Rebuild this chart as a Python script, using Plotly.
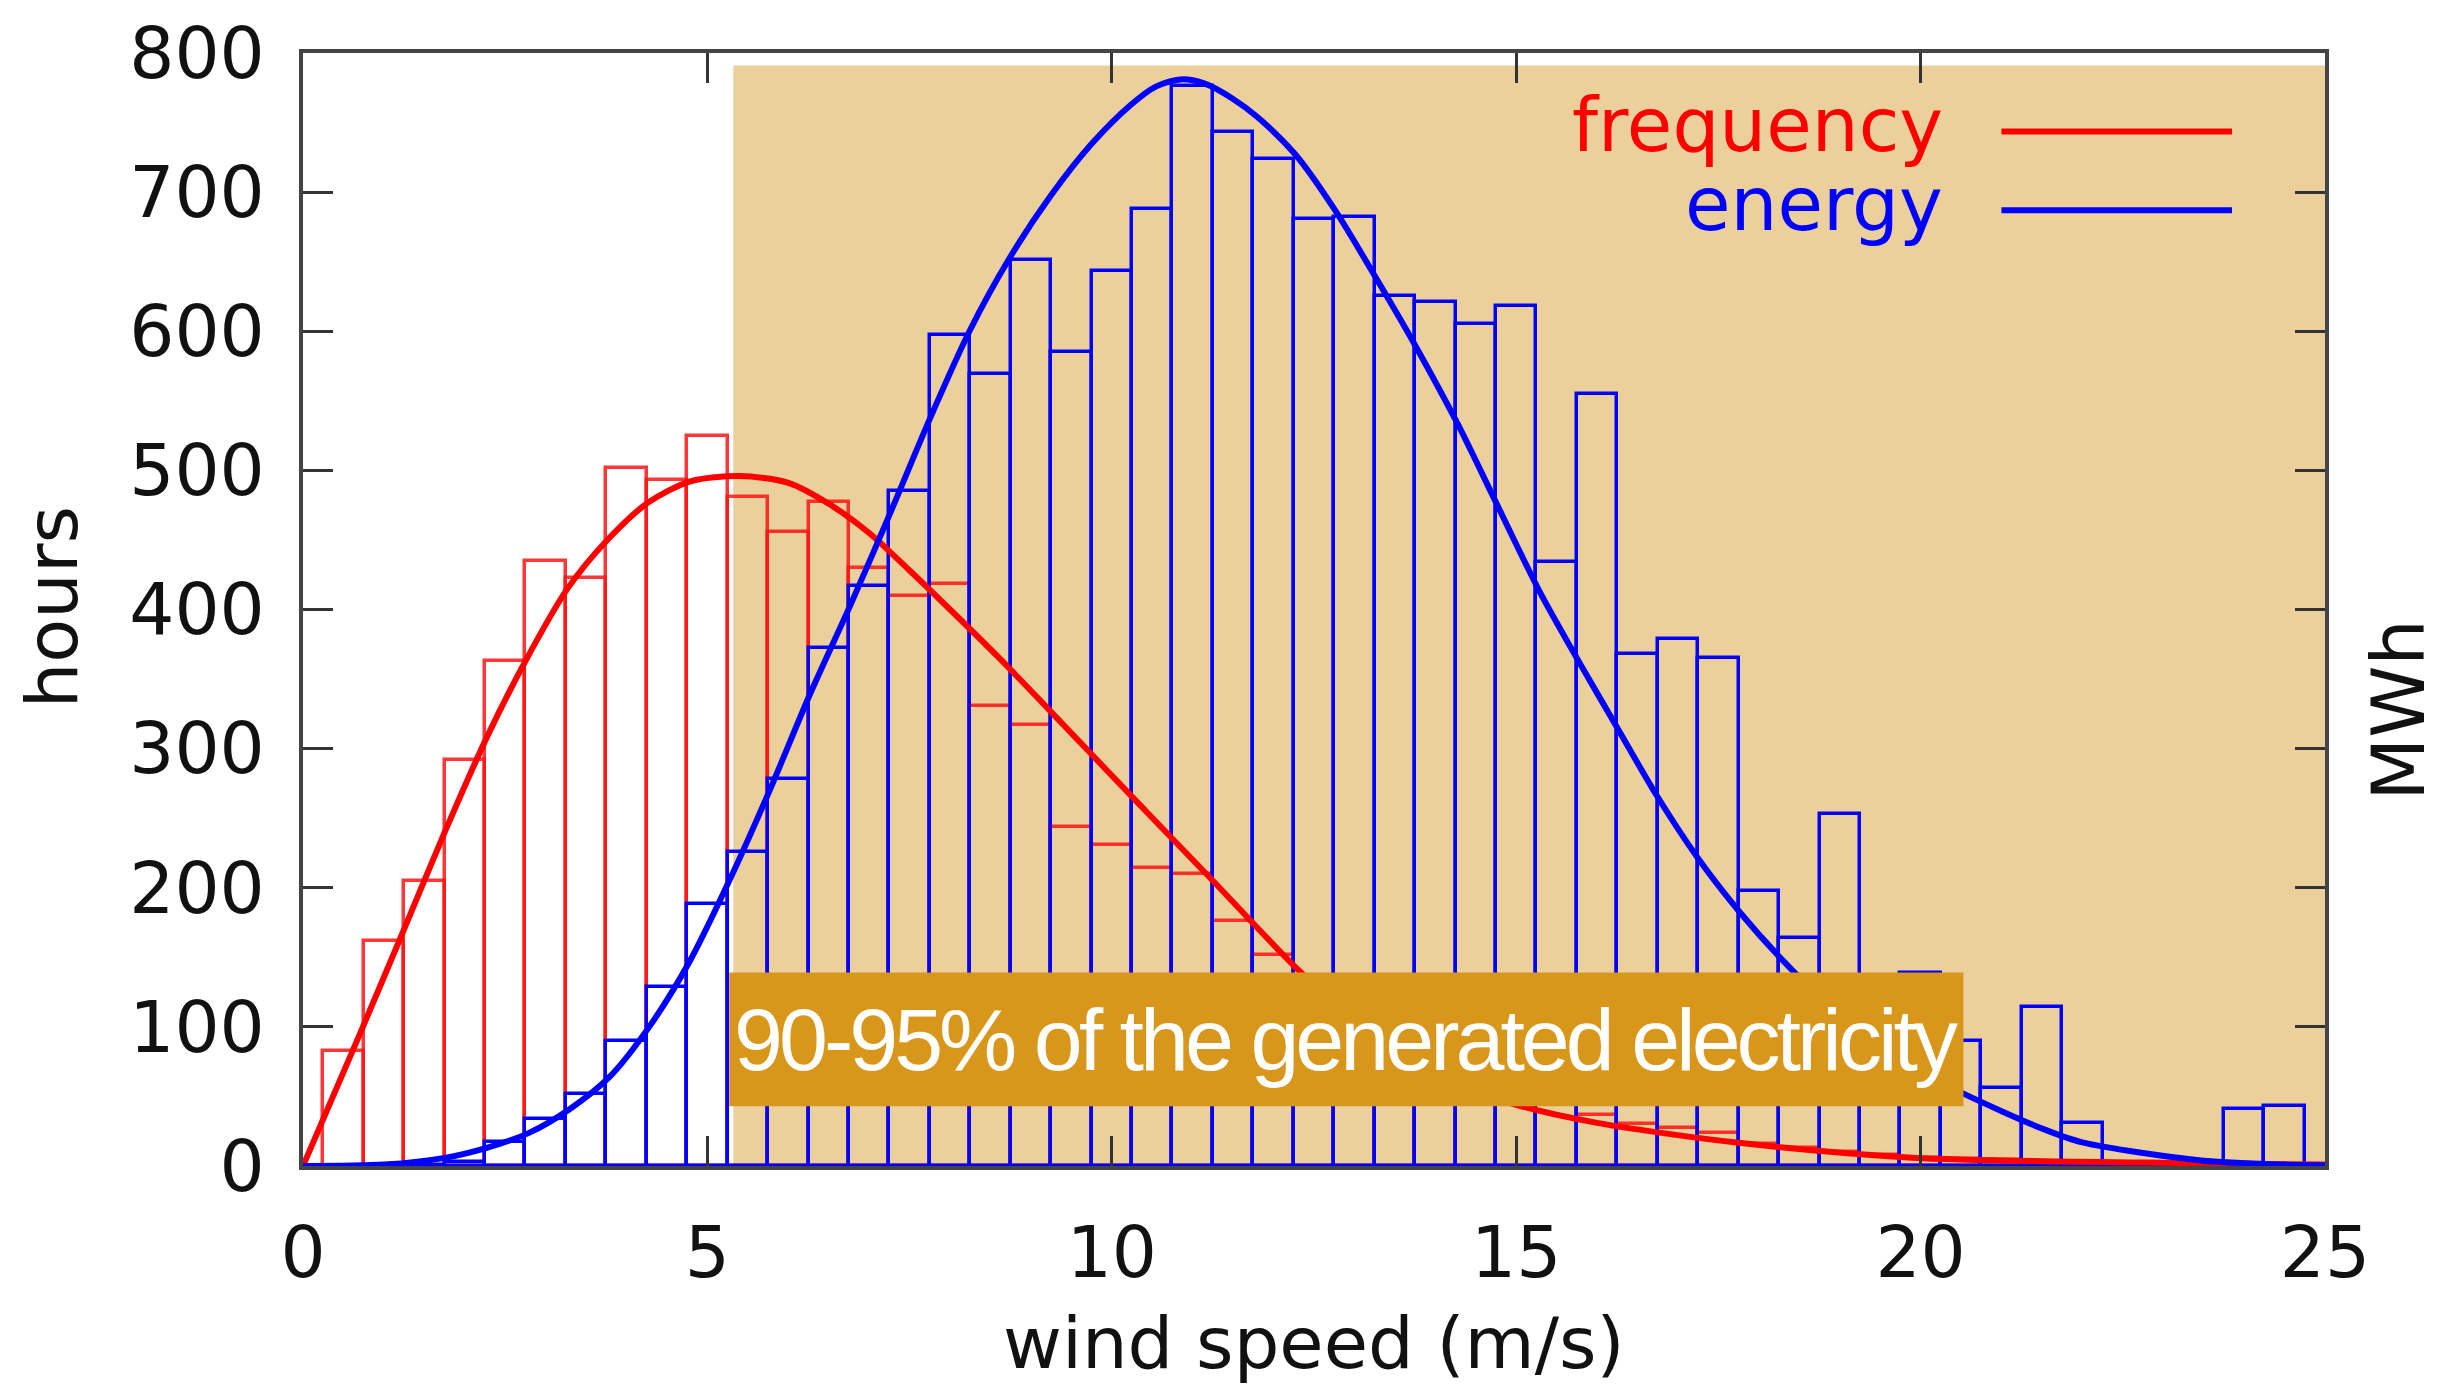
import plotly.graph_objects as go

# ---- data ----
bin_centers = [0.5 * k for k in range(1, 50)]  # 0.5 ... 24.5

frequency_hours = [83, 162, 205, 292, 363, 435, 423, 502, 493, 525,
                   481, 456, 477, 430, 410, 418, 331, 317, 244, 231,
                   214, 210, 176, 152, 133, 116, 98, 82, 66, 56,
                   46, 37, 30, 27, 24, 16, 13, 10, 8, 6,
                   5, 4, 3, 3, 2, 2, 1, 1, 1]

energy_mwh = [0, 0, 1, 3, 17, 34, 52, 90, 129, 188,
              226, 278, 372, 417, 485, 597, 569, 651, 585, 643,
              688, 776, 743, 724, 681, 682, 625, 621, 605, 618,
              434, 555, 368, 379, 365, 198, 164, 253, 100, 139,
              90, 56, 114, 31, 0, 0, 0, 41, 43]

freq_curve_x = [0, 0.66, 1.27, 1.76, 2.28, 2.76, 3.27, 3.78, 4.27, 4.78, 5.4,
                6.0, 6.5, 7.0, 7.5, 8.0, 8.61, 9.24, 10.24, 11.25, 12.27,
                13, 13.5, 14, 14.5, 15, 16, 17.7, 19.9, 23.4, 25]
freq_curve_y = [0, 89, 173, 241, 309, 364, 415, 451, 477, 492, 496,
                491, 476, 455, 428, 400, 365, 327, 266, 205, 143,
                105, 84, 67, 54, 44, 31, 17, 6, 2, 1]

energy_curve_x = [0, 1.0, 1.77, 2.27, 2.8, 3.3, 3.79, 4.28, 4.78, 5.27, 5.77,
                  6.26, 6.79, 7.28, 7.75, 8.24, 8.74, 9.24, 9.74, 10.24, 10.55,
                  10.85, 11.15, 11.5, 11.8, 12.27, 12.76, 13.28, 13.75, 14.28, 14.75, 15.28,
                  15.78, 16.26, 16.73, 17.25, 17.77, 18.26, 19.0, 19.5, 20.0,
                  20.53, 21.5, 22.0, 23.47, 24.5, 25]
energy_curve_y = [0, 1, 6, 13, 24, 41, 64, 100, 147, 205, 270,
                  338, 406, 472, 537, 600, 653, 697, 734, 763, 776,
                  781, 778, 767, 754, 727, 687, 637, 590, 533, 477, 414,
                  362, 314, 267, 221, 182, 150, 108, 86, 68,
                  52, 27, 17, 4, 1, 0.5]

x_ticks = [0, 5, 10, 15, 20, 25]
y_ticks = [0, 100, 200, 300, 400, 500, 600, 700, 800]

shade_x = [5.32, 25]
shade_top = 791
note_text = "90-95% of the generated electricity"
note_x = [5.27, 20.53]
note_y = [43, 139]

RED = "#ff0000"
BLUE = "#0000ff"
FONT = "DejaVu Sans"

fig = go.Figure()

fig.add_trace(go.Bar(x=bin_centers, y=frequency_hours, width=0.5,
                     marker=dict(color="rgba(0,0,0,0)", line=dict(color="rgba(255,20,20,0.85)", width=3.5)),
                     showlegend=False))
fig.add_trace(go.Bar(x=bin_centers, y=energy_mwh, width=0.5,
                     marker=dict(color="rgba(0,0,0,0)", line=dict(color=BLUE, width=3.5)),
                     showlegend=False))
fig.add_trace(go.Scatter(x=freq_curve_x, y=freq_curve_y, mode="lines",
                         line=dict(color=RED, width=6, shape="spline", smoothing=0.8),
                         showlegend=False))
fig.add_trace(go.Scatter(x=energy_curve_x, y=energy_curve_y, mode="lines",
                         line=dict(color=BLUE, width=6, shape="spline", smoothing=0.8),
                         showlegend=False))

shapes = [
    dict(type="rect", xref="x", yref="y", x0=shade_x[0], x1=shade_x[1], y0=0, y1=shade_top,
         fillcolor="#ebd09c", line=dict(width=0), layer="below"),
    dict(type="rect", xref="x", yref="y", x0=note_x[0], x1=note_x[1], y0=note_y[0], y1=note_y[1],
         fillcolor="#d8961a", line=dict(width=0), layer="above"),
    dict(type="line", xref="paper", yref="paper", x0=0.840, x1=0.954, y0=0.9295, y1=0.9295,
         line=dict(color=RED, width=6)),
    dict(type="line", xref="paper", yref="paper", x0=0.840, x1=0.954, y0=0.8587, y1=0.8587,
         line=dict(color=BLUE, width=6)),
]

annotations = [
    dict(x=(note_x[0] + note_x[1]) / 2, y=(note_y[0] + note_y[1]) / 2, xref="x", yref="y",
         text='<span style="letter-spacing:-4px">' + note_text + '</span>', showarrow=False,
         font=dict(family="Liberation Sans Narrow, Liberation Sans, Arial", size=88, color="white")),
    dict(x=0.812, y=0.935, xref="paper", yref="paper", xanchor="right", yanchor="middle",
         text="frequency", showarrow=False, font=dict(family=FONT, size=74, color=RED)),
    dict(x=0.812, y=0.864, xref="paper", yref="paper", xanchor="right", yanchor="middle",
         text="energy", showarrow=False, font=dict(family=FONT, size=74, color=BLUE)),
    dict(x=0.5, y=-0.159, xref="paper", yref="paper", xanchor="center", yanchor="middle",
         text="wind speed (m/s)", showarrow=False, font=dict(family=FONT, size=72, color="#111")),
    dict(x=-0.1241, y=0.502, xref="paper", yref="paper", xanchor="center", yanchor="middle",
         text="hours", textangle=-90, showarrow=False, font=dict(family=FONT, size=72, color="#111")),
    dict(x=1.0366, y=0.409, xref="paper", yref="paper", xanchor="center", yanchor="middle",
         text="MWh", textangle=-90, showarrow=False, font=dict(family=FONT, size=73, color="#111")),
]

fig.update_layout(
    width=2459, height=1394,
    margin=dict(l=303, r=134, t=48, b=228),
    paper_bgcolor="white", plot_bgcolor="white",
    barmode="overlay", bargap=0,
    shapes=shapes, annotations=annotations,
    font=dict(family=FONT, color="#111"),
    xaxis=dict(range=[0, 25], tickvals=x_ticks, ticktext=[str(v) for v in x_ticks],
               ticks="inside", ticklen=30, tickwidth=3, tickcolor="#333",
               mirror="ticks", showline=True, linecolor="#444", linewidth=4,
               showgrid=False, zeroline=False, tickfont=dict(size=71, family=FONT),
               ticklabelstandoff=22),
    yaxis=dict(range=[0, 800], tickvals=y_ticks, ticktext=[str(v) for v in y_ticks],
               ticks="inside", ticklen=30, tickwidth=3, tickcolor="#333",
               mirror="ticks", showline=True, linecolor="#444", linewidth=4,
               showgrid=False, zeroline=False, tickfont=dict(size=71, family=FONT),
               ticklabelstandoff=20),
)

fig.write_html("out.html")
